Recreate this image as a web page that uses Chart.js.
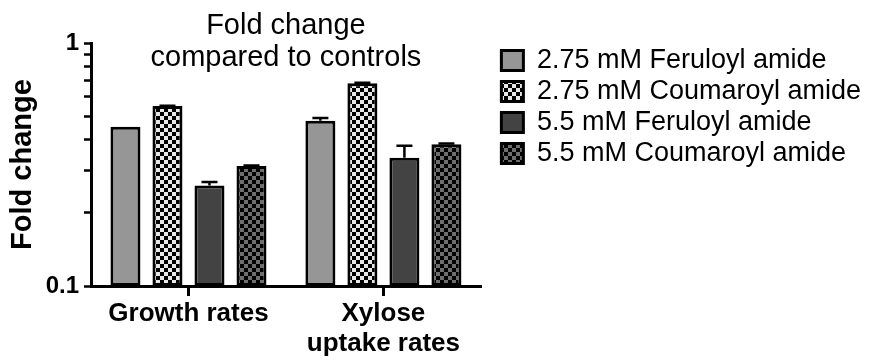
<!DOCTYPE html>
<html>
<head>
<meta charset="utf-8">
<script src="https://cdn.jsdelivr.net/npm/chart.js@4/dist/chart.umd.min.js"></script>
<style>
  html, body { margin: 0; padding: 0; background: #fff; }
  canvas { display: block; }
</style>
</head>
<body>
<canvas id="c" width="871" height="360"></canvas>
<script>
// Categories and series values (fold change vs. controls)
const categories = ['Growth rates', ['Xylose', 'uptake rates']];
const seriesNames = [
  '2.75 mM Feruloyl amide',
  '2.75 mM Coumaroyl amide',
  '5.5 mM Feruloyl amide',
  '5.5 mM Coumaroyl amide'
];
const feruloyl275 = [0.452, 0.479];
const coumaroyl275 = [0.551, 0.683];
const feruloyl55 = [0.259, 0.337];
const coumaroyl55 = [0.312, 0.383];

// Upper ends of the error bars
const feruloyl275Upper = [0.452, 0.491];
const coumaroyl275Upper = [0.552, 0.686];
const feruloyl55Upper = [0.268, 0.378];
const coumaroyl55Upper = [0.313, 0.386];

// Tick positions on the log axis, and the ones that carry a label
const yTickValues = [0.1, 0.2, 0.3, 0.4, 0.5, 0.6, 0.7, 0.8, 0.9, 1];
const yTickLabels = ['0.1', '1'];

const canvas = document.getElementById('c');
const ctx = canvas.getContext('2d');

function checker(light, dark, size) {
  const tile = document.createElement('canvas');
  tile.width = tile.height = size * 2;
  const g = tile.getContext('2d');
  g.fillStyle = light;
  g.fillRect(0, 0, size * 2, size * 2);
  g.fillStyle = dark;
  g.fillRect(0, 0, size, size);
  g.fillRect(size, size, size, size);
  return ctx.createPattern(tile, 'repeat');
}

const fills = [
  '#969696',
  checker('#e8e8e8', '#000000', 4),
  '#434343',
  checker('#6e6e6e', '#000000', 4)
];

const values = [feruloyl275, coumaroyl275, feruloyl55, coumaroyl55];
const uppers = [feruloyl275Upper, coumaroyl275Upper, feruloyl55Upper, coumaroyl55Upper];

const datasets = seriesNames.map((name, i) => ({
  label: name,
  data: values[i],
  errorUpper: uppers[i],
  backgroundColor: fills[i],
  borderColor: '#000',
  borderWidth: 3,
  borderSkipped: false,
  categoryPercentage: 0.862,
  barPercentage: 0.714
}));

// Upper error bars with caps
const errorBars = {
  id: 'errorBars',
  afterDatasetsDraw(chart) {
    const y = chart.scales.y;
    const c = chart.ctx;
    c.save();
    c.strokeStyle = '#000';
    c.lineWidth = 2.5;
    chart.data.datasets.forEach((ds, di) => {
      const meta = chart.getDatasetMeta(di);
      meta.data.forEach((bar, j) => {
        const up = ds.errorUpper[j];
        if (up <= ds.data[j]) return;
        const yTop = y.getPixelForValue(up);
        const yBar = y.getPixelForValue(ds.data[j]);
        c.beginPath();
        c.moveTo(bar.x, yBar);
        c.lineTo(bar.x, yTop);
        c.moveTo(bar.x - 8, yTop);
        c.lineTo(bar.x + 8, yTop);
        c.stroke();
      });
    });
    c.restore();
  }
};

Chart.defaults.font.family = "'Liberation Sans', Arial, sans-serif";
Chart.defaults.color = '#000';

new Chart(ctx, {
  type: 'bar',
  data: { labels: categories, datasets },
  plugins: [errorBars],
  options: {
    responsive: false,
    animation: false,
    devicePixelRatio: 1,
    layout: { padding: { left: 0, right: 0, top: 0, bottom: 0 } },
    plugins: {
      tooltip: { enabled: false },
      title: {
        display: true,
        fullSize: false,
        text: ['Fold change', 'compared to controls'],
        font: { size: 29, weight: 'normal', lineHeight: 1.1 },
        color: '#000',
        padding: { top: 10, bottom: -30.8 }
      },
      legend: {
        position: 'right',
        align: 'start',
        fullSize: false,
        maxWidth: 420,
        labels: {
          boxWidth: 22,
          boxHeight: 20,
          padding: 4,
          font: { size: 27 },
          color: '#000'
        }
      }
    },
    scales: {
      x: {
        type: 'category',
        offset: true,
        grid: {
          display: true,
          offset: false,
          drawOnChartArea: false,
          drawTicks: true,
          tickLength: 10,
          tickColor: '#000',
          tickWidth: 3,
          lineWidth: 3,
          color: '#000'
        },
        border: { display: true, color: '#000', width: 3 },
        ticks: {
          font: { size: 26, weight: 'bold', lineHeight: 1.15 },
          color: '#000',
          padding: 3,
          maxRotation: 0,
          autoSkip: false
        },
        afterFit(s) { s.height = 74; }
      },
      y: {
        type: 'logarithmic',
        position: 'left',
        min: 0.1,
        max: 1,
        afterBuildTicks(s) {
          s.ticks = yTickValues.map(v => ({ value: v }));
        },
        grid: {
          display: true,
          drawOnChartArea: false,
          drawTicks: true,
          tickLength: 7,
          tickColor: '#000',
          tickWidth: 2.5
        },
        border: { display: true, color: '#000', width: 3 },
        ticks: {
          autoSkip: false,
          font: { size: 24, weight: 'bold' },
          color: '#000',
          padding: 5,
          callback(v) {
            const hit = yTickLabels.find(t => Math.abs(parseFloat(t) - v) < 1e-9);
            return hit === undefined ? '' : hit;
          }
        },
        title: {
          display: true,
          text: 'Fold change',
          font: { size: 29, weight: 'bold' },
          color: '#000',
          padding: { top: 6, bottom: 0 }
        },
        afterFit(s) { s.width = 91; }
      },
      gap: {
        type: 'linear',
        position: 'right',
        display: true,
        grid: { display: false },
        border: { display: false },
        ticks: { display: false },
        afterFit(s) { s.width = 16.5; }
      }
    }
  }
});
</script>
</body>
</html>
